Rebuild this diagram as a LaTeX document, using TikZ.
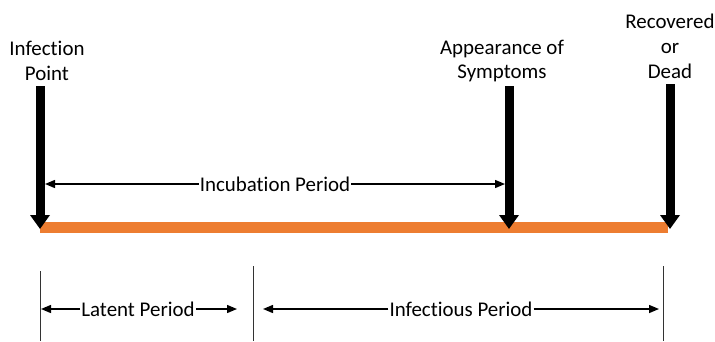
\documentclass[tikz,border=0pt]{standalone}
\usepackage{fontspec}
\setmainfont[Ligatures=NoCommon]{Carlito}
\usetikzlibrary{arrows.meta}
\definecolor{barorange}{HTML}{ED7D31}
\tikzset{
  lbl/.style={font=\fontsize{21}{25}\selectfont, align=center, inner sep=1pt},
  bigarrow/.style={line width=9bp, -{Triangle[length=14bp,width=19bp]}},
  thinarrow/.style={line width=1.4bp, -{Triangle[length=10bp,width=8bp]}},
  tick/.style={line width=1bp, black!80},
}
\begin{document}
\begin{tikzpicture}[x=1bp,y=-1bp]
\useasboundingbox (0,0) rectangle (715,341);
% orange bar
\fill[barorange] (40,222) rectangle (668,233);
% labels
\node[lbl] (inf) at (47,61) {Infection\\Point};
\node[lbl] (app) at (502,61) {Appearance of\\Symptoms};
\node[lbl] (rec) at (670,46) {Recovered\\or\\Dead};
% big arrows
\coordinate (a1t) at (40,86); \coordinate (a1b) at (40,229);
\coordinate (a2t) at (509,86); \coordinate (a2b) at (509,229);
\coordinate (a3t) at (670,84); \coordinate (a3b) at (670,229);
\draw[bigarrow] (a1t) -- (a1b);
\draw[bigarrow] (a2t) -- (a2b);
\draw[bigarrow] (a3t) -- (a3b);
% incubation
\node[lbl] (inc) at (275,184) {Incubation Period};
\coordinate (incl) at (45,184); \coordinate (incr) at (505,184);
\draw[thinarrow] (inc.west) -- (incl);
\draw[thinarrow] (inc.east) -- (incr);
% ticks
\coordinate (t1a) at (40,271); \coordinate (t1b) at (40,341);
\coordinate (t2a) at (253,266); \coordinate (t2b) at (253,341);
\coordinate (t3a) at (663,266); \coordinate (t3b) at (663,341);
\draw[tick] (t1a) -- (t1b);
\draw[tick] (t2a) -- (t2b);
\draw[tick] (t3a) -- (t3b);
% latent
\node[lbl] (lat) at (138,309) {Latent Period};
\coordinate (latl) at (41,309); \coordinate (latr) at (237,309);
\draw[thinarrow] (lat.west) -- (latl);
\draw[thinarrow] (lat.east) -- (latr);
% infectious
\node[lbl] (ifp) at (461,309) {Infectious Period};
\coordinate (ifpl) at (263,309); \coordinate (ifpr) at (659,309);
\draw[thinarrow] (ifp.west) -- (ifpl);
\draw[thinarrow] (ifp.east) -- (ifpr);
\end{tikzpicture}
\end{document}
